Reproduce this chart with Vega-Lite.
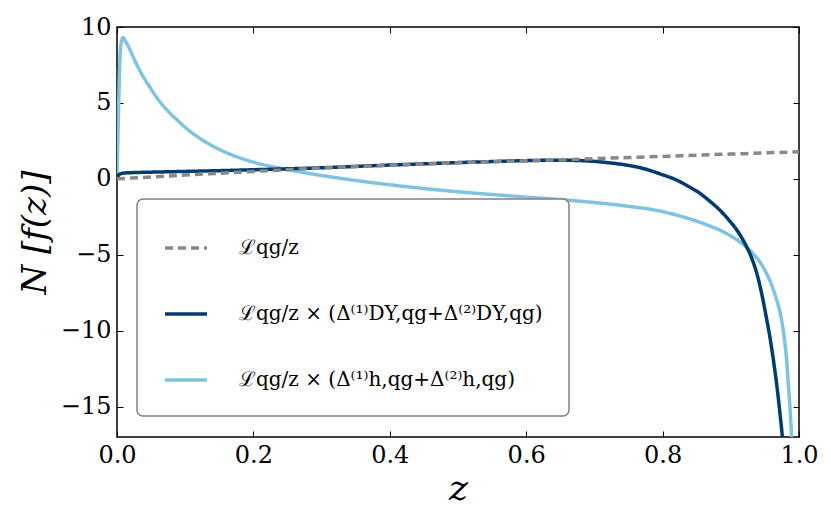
{
  "$schema": "https://vega.github.io/schema/vega-lite/v6.json",
  "width": 682,
  "height": 410,
  "autosize": "none",
  "padding": {"left": 117, "top": 27, "right": 32, "bottom": 88},
  "background": "white",
  "datasets": {
    "curves": [
      {"s": "h", "z": 0.0, "v": 0.2},
      {"s": "h", "z": 0.002, "v": 4.0},
      {"s": "h", "z": 0.004, "v": 7.5},
      {"s": "h", "z": 0.006, "v": 8.9},
      {"s": "h", "z": 0.009, "v": 9.3},
      {"s": "h", "z": 0.012, "v": 9.1},
      {"s": "h", "z": 0.018, "v": 8.6},
      {"s": "h", "z": 0.024, "v": 8.0},
      {"s": "h", "z": 0.035, "v": 7.0},
      {"s": "h", "z": 0.048, "v": 6.05},
      {"s": "h", "z": 0.06, "v": 5.25},
      {"s": "h", "z": 0.073, "v": 4.55},
      {"s": "h", "z": 0.09, "v": 3.8},
      {"s": "h", "z": 0.105, "v": 3.2},
      {"s": "h", "z": 0.122, "v": 2.65},
      {"s": "h", "z": 0.145, "v": 2.05},
      {"s": "h", "z": 0.17, "v": 1.55},
      {"s": "h", "z": 0.2, "v": 1.1},
      {"s": "h", "z": 0.239, "v": 0.7},
      {"s": "h", "z": 0.268, "v": 0.46},
      {"s": "h", "z": 0.31, "v": 0.15},
      {"s": "h", "z": 0.366, "v": -0.2},
      {"s": "h", "z": 0.415, "v": -0.47},
      {"s": "h", "z": 0.464, "v": -0.7},
      {"s": "h", "z": 0.51, "v": -0.89},
      {"s": "h", "z": 0.561, "v": -1.07},
      {"s": "h", "z": 0.605, "v": -1.22},
      {"s": "h", "z": 0.649, "v": -1.36},
      {"s": "h", "z": 0.698, "v": -1.55},
      {"s": "h", "z": 0.747, "v": -1.79},
      {"s": "h", "z": 0.796, "v": -2.12},
      {"s": "h", "z": 0.82, "v": -2.38},
      {"s": "h", "z": 0.845, "v": -2.71},
      {"s": "h", "z": 0.865, "v": -3.03},
      {"s": "h", "z": 0.884, "v": -3.38},
      {"s": "h", "z": 0.9, "v": -3.76},
      {"s": "h", "z": 0.913, "v": -4.14},
      {"s": "h", "z": 0.923, "v": -4.5},
      {"s": "h", "z": 0.933, "v": -4.95},
      {"s": "h", "z": 0.943, "v": -5.5},
      {"s": "h", "z": 0.952, "v": -6.2},
      {"s": "h", "z": 0.96, "v": -7.0},
      {"s": "h", "z": 0.966, "v": -7.8},
      {"s": "h", "z": 0.972, "v": -8.75},
      {"s": "h", "z": 0.976, "v": -9.7},
      {"s": "h", "z": 0.979, "v": -10.7},
      {"s": "h", "z": 0.982, "v": -12.0},
      {"s": "h", "z": 0.984, "v": -13.3},
      {"s": "h", "z": 0.987, "v": -15.2},
      {"s": "h", "z": 0.989, "v": -16.9},
      {"s": "h", "z": 0.992, "v": -20.0},
      {"s": "DY", "z": 0.0, "v": 0.0},
      {"s": "DY", "z": 0.002, "v": 0.22},
      {"s": "DY", "z": 0.005, "v": 0.33},
      {"s": "DY", "z": 0.01, "v": 0.38},
      {"s": "DY", "z": 0.03, "v": 0.42},
      {"s": "DY", "z": 0.06, "v": 0.45},
      {"s": "DY", "z": 0.1, "v": 0.49},
      {"s": "DY", "z": 0.15, "v": 0.54},
      {"s": "DY", "z": 0.2, "v": 0.6},
      {"s": "DY", "z": 0.25, "v": 0.66},
      {"s": "DY", "z": 0.3, "v": 0.73},
      {"s": "DY", "z": 0.35, "v": 0.82},
      {"s": "DY", "z": 0.4, "v": 0.91},
      {"s": "DY", "z": 0.45, "v": 0.99},
      {"s": "DY", "z": 0.5, "v": 1.07},
      {"s": "DY", "z": 0.55, "v": 1.14},
      {"s": "DY", "z": 0.6, "v": 1.2},
      {"s": "DY", "z": 0.649, "v": 1.23},
      {"s": "DY", "z": 0.7, "v": 1.15},
      {"s": "DY", "z": 0.723, "v": 1.05},
      {"s": "DY", "z": 0.748, "v": 0.9},
      {"s": "DY", "z": 0.772, "v": 0.68},
      {"s": "DY", "z": 0.796, "v": 0.33},
      {"s": "DY", "z": 0.821, "v": -0.09},
      {"s": "DY", "z": 0.838, "v": -0.5},
      {"s": "DY", "z": 0.855, "v": -0.96},
      {"s": "DY", "z": 0.87, "v": -1.5},
      {"s": "DY", "z": 0.884, "v": -2.06},
      {"s": "DY", "z": 0.897, "v": -2.7},
      {"s": "DY", "z": 0.909, "v": -3.38},
      {"s": "DY", "z": 0.917, "v": -3.95},
      {"s": "DY", "z": 0.923, "v": -4.45},
      {"s": "DY", "z": 0.933, "v": -5.5},
      {"s": "DY", "z": 0.938, "v": -6.2},
      {"s": "DY", "z": 0.945, "v": -7.5},
      {"s": "DY", "z": 0.952, "v": -9.1},
      {"s": "DY", "z": 0.958, "v": -10.6},
      {"s": "DY", "z": 0.963, "v": -12.1},
      {"s": "DY", "z": 0.968, "v": -13.8},
      {"s": "DY", "z": 0.972, "v": -15.4},
      {"s": "DY", "z": 0.976, "v": -17.2},
      {"s": "DY", "z": 0.98, "v": -19.5},
      {"s": "L", "z": 0.0, "v": 0.0},
      {"s": "L", "z": 0.02, "v": 0.05},
      {"s": "L", "z": 0.05, "v": 0.12},
      {"s": "L", "z": 0.1, "v": 0.25},
      {"s": "L", "z": 0.15, "v": 0.37},
      {"s": "L", "z": 0.2, "v": 0.49},
      {"s": "L", "z": 0.268, "v": 0.65},
      {"s": "L", "z": 0.3, "v": 0.72},
      {"s": "L", "z": 0.35, "v": 0.81},
      {"s": "L", "z": 0.4, "v": 0.9},
      {"s": "L", "z": 0.464, "v": 1.0},
      {"s": "L", "z": 0.5, "v": 1.06},
      {"s": "L", "z": 0.55, "v": 1.13},
      {"s": "L", "z": 0.6, "v": 1.19},
      {"s": "L", "z": 0.66, "v": 1.26},
      {"s": "L", "z": 0.7, "v": 1.33},
      {"s": "L", "z": 0.767, "v": 1.43},
      {"s": "L", "z": 0.8, "v": 1.48},
      {"s": "L", "z": 0.85, "v": 1.56},
      {"s": "L", "z": 0.9, "v": 1.63},
      {"s": "L", "z": 0.95, "v": 1.71},
      {"s": "L", "z": 1.0, "v": 1.78}
    ]
  },
  "data": {"name": "curves"},
  "layer": [
    {
      "mark": {"type": "line", "strokeWidth": 3.5, "clip": true, "interpolate": "monotone"},
      "encoding": {
        "x": {
          "field": "z",
          "type": "quantitative",
          "scale": {"domain": [0, 1], "nice": false, "zero": false},
          "axis": {
            "values": [0, 0.2, 0.4, 0.6, 0.8, 1.0],
            "format": ".1f",
            "title": "z",
            "titleFontStyle": "italic",
            "titleFontSize": 36,
            "titlePadding": 4
          }
        },
        "y": {
          "field": "v",
          "type": "quantitative",
          "scale": {"domain": [-17, 10], "nice": false, "zero": false},
          "axis": {
            "values": [10, 5, 0, -5, -10, -15],
            "format": "d",
            "title": "N [f(z)]",
            "titleFontStyle": "italic",
            "titleFontSize": 34,
            "titlePadding": 8
          }
        },
        "color": {
          "field": "s",
          "type": "nominal",
          "scale": {
            "domain": ["L", "DY", "h"],
            "range": ["#888888", "#003c71", "#7ec4e0"]
          },
          "legend": {
            "title": null,
            "orient": "none",
            "legendX": 20,
            "legendY": 172,
            "labelExpr": "datum.label == 'L' ? 'ℒqg/z' : datum.label == 'DY' ? 'ℒqg/z × (Δ⁽¹⁾DY,qg+Δ⁽²⁾DY,qg)' : 'ℒqg/z × (Δ⁽¹⁾h,qg+Δ⁽²⁾h,qg)'"
          }
        },
        "strokeDash": {
          "field": "s",
          "type": "nominal",
          "scale": {
            "domain": ["L", "DY", "h"],
            "range": [[8, 5], [1, 0], [1, 0]]
          },
          "legend": {
            "title": null,
            "orient": "none",
            "legendX": 20,
            "legendY": 172,
            "labelExpr": "datum.label == 'L' ? 'ℒqg/z' : datum.label == 'DY' ? 'ℒqg/z × (Δ⁽¹⁾DY,qg+Δ⁽²⁾DY,qg)' : 'ℒqg/z × (Δ⁽¹⁾h,qg+Δ⁽²⁾h,qg)'"
          }
        },
        "order": {"field": "z", "type": "quantitative"}
      }
    },
    {
      "mark": {"type": "line", "opacity": 0, "clip": true},
      "encoding": {
        "x": {
          "field": "z",
          "type": "quantitative",
          "axis": {"orient": "top", "values": [0, 0.2, 0.4, 0.6, 0.8, 1.0], "labels": false, "title": null}
        },
        "y": {
          "field": "v",
          "type": "quantitative",
          "axis": {"orient": "right", "values": [10, 5, 0, -5, -10, -15], "labels": false, "title": null}
        }
      }
    }
  ],
  "resolve": {"axis": {"x": "independent", "y": "independent"}},
  "config": {
    "font": "DejaVu Serif",
    "view": {"stroke": "black", "strokeWidth": 1.5},
    "axis": {
      "domain": false,
      "grid": false,
      "tickColor": "black",
      "tickSize": -6,
      "tickWidth": 1,
      "labelFont": "DejaVu Serif",
      "labelFontSize": 24,
      "labelColor": "black",
      "labelFlush": false,
      "labelOverlap": false,
      "labelPadding": 12,
      "titleFont": "DejaVu Serif",
      "titleFontWeight": "normal",
      "titleColor": "black"
    },
    "legend": {
      "symbolType": "stroke",
      "symbolSize": 1764,
      "symbolStrokeWidth": 3.5,
      "labelFont": "DejaVu Serif",
      "labelFontSize": 20,
      "labelColor": "black",
      "labelOffset": 30,
      "labelLimit": 0,
      "rowPadding": 33,
      "padding": 26,
      "strokeColor": "#808080",
      "strokeWidth": 1.5,
      "cornerRadius": 6,
      "fillColor": "white"
    }
  }
}
